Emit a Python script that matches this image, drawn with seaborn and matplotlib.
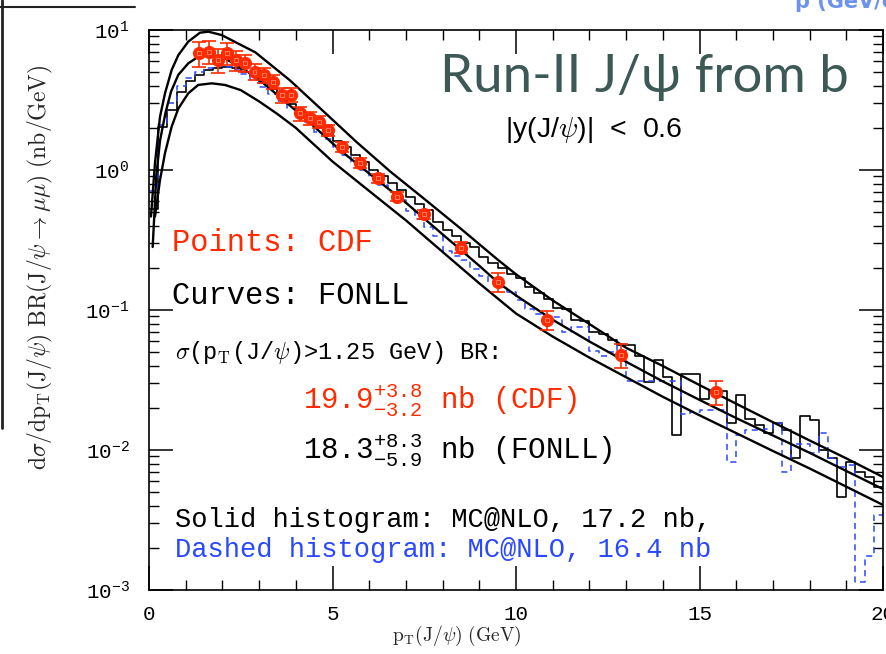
import matplotlib
matplotlib.use("Agg")
import matplotlib.pyplot as plt
import seaborn as sns
import numpy as np
import pandas as pd
from matplotlib.ticker import LogLocator, MultipleLocator, NullFormatter
from matplotlib.lines import Line2D

# ---------------- data ----------------
# FONLL central / upper / lower curves
fonll_c_pt = [0.10, 0.20, 0.30, 0.45, 0.60, 0.80, 1.07, 1.35, 1.62, 1.90, 2.10, 2.48, 3.00, 3.39,
              4.30, 5.20, 6.11, 7.02, 8.00, 9.00, 9.50, 10.0, 11.0, 12.0, 13.0, 14.0, 15.0, 16.0,
              17.0, 18.0, 19.0, 20.0]
fonll_c = [0.282, 0.912, 1.62, 2.57, 3.63, 4.79, 5.78, 6.46, 6.64, 6.49, 6.19, 5.47, 4.42, 3.63,
           2.28, 1.39, 0.895, 0.578, 0.347, 0.207, 0.158, 0.127, 0.0851, 0.0596, 0.0427, 0.0309,
           0.0228, 0.0169, 0.0127, 0.00955, 0.00708, 0.00526]

fonll_u_pt = [0.054, 0.163, 0.30, 0.436, 0.617, 0.80, 1.07, 1.39, 1.62, 1.98, 2.90, 3.84, 4.75,
              5.66, 6.57, 7.47, 8.5, 9.5, 10.0, 11.0, 12.0, 13.0, 14.0, 15.0, 16.0, 17.0, 18.0,
              19.0, 20.0]
fonll_u = [0.465, 1.12, 2.40, 3.53, 5.18, 6.62, 8.26, 9.57, 9.73, 9.20, 6.92, 4.37, 2.63, 1.58,
           0.977, 0.631, 0.380, 0.229, 0.180, 0.117, 0.0794, 0.0537, 0.0398, 0.0291, 0.0214,
           0.0158, 0.0117, 0.00871, 0.00641]

fonll_l_pt = [0.163, 0.30, 0.436, 0.617, 0.80, 1.07, 1.34, 1.71, 2.07, 2.5, 3.0, 3.5, 4.0, 5.0,
              6.0, 7.0, 8.0, 9.0, 10.0, 11.0, 12.0, 13.0, 14.0, 15.0, 16.0, 17.0, 18.0, 19.0, 20.0]
fonll_l = [0.465, 0.849, 1.32, 2.04, 2.75, 3.53, 4.05, 4.16, 4.05, 3.72, 3.09, 2.51, 2.00, 1.15,
           0.708, 0.437, 0.260, 0.155, 0.0944, 0.0646, 0.0457, 0.0331, 0.0240, 0.0177, 0.0132,
           0.00984, 0.00738, 0.00547, 0.00405]

# MC@NLO histograms, 0.25 GeV bins from 0 to 20 GeV
mc_solid = [0.525, 2.02, 2.69, 3.63, 4.33, 4.79, 5.19, 5.31, 5.43, 5.31,
            5.01, 4.68, 4.17, 3.76, 3.31, 2.95, 2.60, 2.32, 2.04, 1.82,
            1.62, 1.45, 1.27, 1.15, 1.00, 0.912, 0.813, 0.724, 0.646, 0.575,
            0.519, 0.427, 0.372, 0.339, 0.302, 0.282, 0.240, 0.216, 0.200, 0.182,
            0.170, 0.146, 0.132, 0.120, 0.104, 0.102, 0.0851, 0.0841, 0.0700, 0.0676,
            0.0611, 0.0562, 0.0562, 0.0468, 0.0308, 0.0440, 0.0334, 0.0129, 0.0349, 0.0347,
            0.0230, 0.0265, 0.0265, 0.0155, 0.0247, 0.0166, 0.0152, 0.0132, 0.0157, 0.0139,
            0.00871, 0.0175, 0.0164, 0.0100, 0.00871, 0.00465, 0.00826, 0.00700, 0.00646, 0.00547]
mc_dashed = [0.708, 2.09, 2.99, 3.98, 4.57, 5.01, 5.37, 5.50, 5.43, 5.19,
             4.84, 4.42, 3.94, 3.51, 3.09, 2.75, 2.43, 2.14, 1.88, 1.66,
             1.46, 1.29, 1.14, 1.00, 0.871, 0.776, 0.692, 0.610, 0.513, 0.447,
             0.389, 0.339, 0.263, 0.245, 0.226, 0.195, 0.174, 0.158, 0.145, 0.135,
             0.117, 0.102, 0.0933, 0.0912, 0.0891, 0.0692, 0.0759, 0.0759, 0.0513, 0.0468,
             0.0501, 0.0575, 0.0309, 0.0309, 0.0309, 0.0309, 0.0309, 0.0309, 0.0182, 0.0186,
             0.0193, 0.0193, 0.0193, 0.00826, 0.0128, 0.0139, 0.0139, 0.0141, 0.0157, 0.00700,
             0.0110, 0.0111, 0.00946, 0.0132, 0.00871, 0.00759, 0.00782, 0.00115, 0.00174, 0.00344]

# CDF points
cdf_pt = [1.375, 1.625, 1.875, 2.125, 2.375, 2.625, 2.875, 3.125, 3.375, 3.625, 3.875, 4.125,
          4.375, 4.625, 4.875, 5.25, 5.75, 6.25, 6.75, 7.5, 8.5, 9.5, 10.85, 12.85, 15.45]
cdf_y = [6.82, 7.0, 6.11, 6.82, 6.11, 5.78, 5.04, 4.78, 4.28, 3.44, 3.44, 2.54,
         2.34, 2.21, 1.93, 1.47, 1.12, 0.873, 0.646, 0.485, 0.279, 0.159, 0.0849, 0.0478, 0.0261]
cdf_err = [1.4, 1.3, 1.2, 1.2, 1.0, 0.8, 0.65, 0.6, 0.5, 0.42, 0.4, 0.3,
           0.26, 0.22, 0.18, 0.12, 0.09, 0.07, 0.05, 0.035, 0.025, 0.025, 0.013, 0.009, 0.005]

RED = "#ff2a00"
BLUE = "#2a48ff"
TITLE_COL = "#3d5956"

# ---------------- figure ----------------
sns.set_style("ticks")
plt.rcParams['font.family'] = ['Liberation Mono', 'DejaVu Sans']
plt.rcParams['mathtext.fontset'] = 'cm'

W, H = 886, 654
fig = plt.figure(figsize=(W / 100, H / 100), dpi=100)
x0, x1, y0, y1 = 149, 883, 30, 590
ax = fig.add_axes([x0 / W, 1 - y1 / H, (x1 - x0) / W, (y1 - y0) / H])
ax.set_yscale('log')

nb = len(mc_solid)
bin_lo = [0.25 * i for i in range(nb)]
hist_df = pd.DataFrame({"pt": [b + 0.125 for b in bin_lo],
                        "solid": mc_solid, "dashed": mc_dashed})

sns.histplot(data=hist_df, x="pt", weights="solid", binwidth=0.25, binrange=(0, 20),
             element='step', fill=False, color='black', linewidth=1.2, ax=ax)
sns.histplot(data=hist_df, x="pt", weights="dashed", binwidth=0.25, binrange=(0, 20),
             element='step', fill=False, color=BLUE, linewidth=1.1,
             linestyle=(0, (4, 3)), ax=ax)

for xs, ys in [(fonll_u_pt, fonll_u), (fonll_c_pt, fonll_c), (fonll_l_pt, fonll_l)]:
    sns.lineplot(x=xs, y=ys, ax=ax, color='black', linewidth=1.7, sort=False, estimator=None)

ax.errorbar(cdf_pt, cdf_y, yerr=cdf_err, fmt='none', ecolor=RED, elinewidth=1.2,
            capsize=5, capthick=1.2, zorder=5)
sns.scatterplot(x=cdf_pt, y=cdf_y, ax=ax, color=RED, s=75, edgecolor=RED, linewidth=0.8,
                zorder=6)
sns.scatterplot(x=cdf_pt, y=cdf_y, ax=ax, marker='s', s=8, facecolor='none',
                edgecolor='#ff8a70', linewidth=0.6, zorder=7)

ax.set_xlim(0, 20)
ax.set_ylim(1e-3, 10)
ax.set_xlabel("")
ax.set_ylabel("")
ax.xaxis.set_major_locator(MultipleLocator(5))
ax.xaxis.set_minor_locator(MultipleLocator(1))
ax.yaxis.set_major_locator(LogLocator(base=10, numticks=10))
ax.yaxis.set_minor_locator(LogLocator(base=10, subs=np.arange(2, 10), numticks=20))
ax.yaxis.set_minor_formatter(NullFormatter())
ax.tick_params(which='both', direction='in', top=True, right=True, colors='black',
               labelsize=15)
ax.tick_params(axis='x', which='major', length=17, width=1.1, pad=11)
ax.tick_params(axis='x', which='minor', length=7, width=1.0)
ax.tick_params(axis='y', which='major', length=17, width=1.1, pad=14)
ax.tick_params(axis='y', which='minor', length=7, width=1.0)
for s in ax.spines.values():
    s.set_color('black')
    s.set_linewidth(1.2)

# axis labels
fig.text(457 / W, 1 - 636 / H, r"$\mathrm{p_T(J/}\psi\mathrm{)\ (GeV)}$", ha='center',
         va='center', fontsize=14)
fig.text(40 / W, 1 - 267 / H,
         r"$\mathrm{d}\sigma/\mathrm{dp_T(J/}\psi\mathrm{)\ BR(J/}\psi\to\mu\mu\mathrm{)\ (nb/GeV)}$",
         ha='center', va='center', rotation=90, fontsize=17)

# title & texts
fig.text(440 / W, 1 - 92 / H, "Run-II J/ψ from b", fontsize=38, color=TITLE_COL,
         family=['Lato', 'DejaVu Sans'], va='baseline', ha='left')
fig.text(505 / W, 1 - 130 / H, r"|y(J/$\psi$)|  <  0.6", fontsize=20.5, color='black',
         family=['Liberation Sans', 'DejaVu Sans'], va='center', ha='left')

def atext(xp, yp, s, **kw):
    fig.text(xp / W, 1 - yp / H, s, va='center', ha='left', **kw)

atext(172, 243, "Points: CDF", fontsize=22, color=RED)
atext(172, 296, "Curves: FONLL", fontsize=22, color='black')
atext(175, 353, r"$\sigma$(p$_{\rm T}$(J/$\psi$)>1.25 GeV) BR:", fontsize=17, color='black')
atext(303, 400, r"$\mathdefault{19.9^{+3.8}_{-3.2}}$ nb (CDF)", fontsize=21, color=RED)
atext(303, 450, r"$\mathdefault{18.3^{+8.3}_{-5.9}}$ nb (FONLL)", fontsize=21, color='black')
atext(175, 520, "Solid histogram: MC@NLO, 17.2 nb,", fontsize=19.5, color='black')
atext(175, 550, "Dashed histogram: MC@NLO, 16.4 nb", fontsize=19.5, color=BLUE)

# slide-crop remnants at the edges
fig.add_artist(Line2D([1.5 / W, 1.5 / W], [1.0, 1 - 428 / H], color='#222222', lw=2,
                      transform=fig.transFigure))
fig.add_artist(Line2D([0, 135 / W], [1 - 7 / H, 1 - 7 / H], color='#222222', lw=1.5,
                      transform=fig.transFigure))
fig.text(795 / W, 1 - 8 / H, "p (GeV/c)", fontsize=15, color='#3a6ee8', alpha=0.75,
         fontweight='bold', family=['DejaVu Sans'], va='baseline', ha='left')

fig.savefig("out.png", dpi=100)
